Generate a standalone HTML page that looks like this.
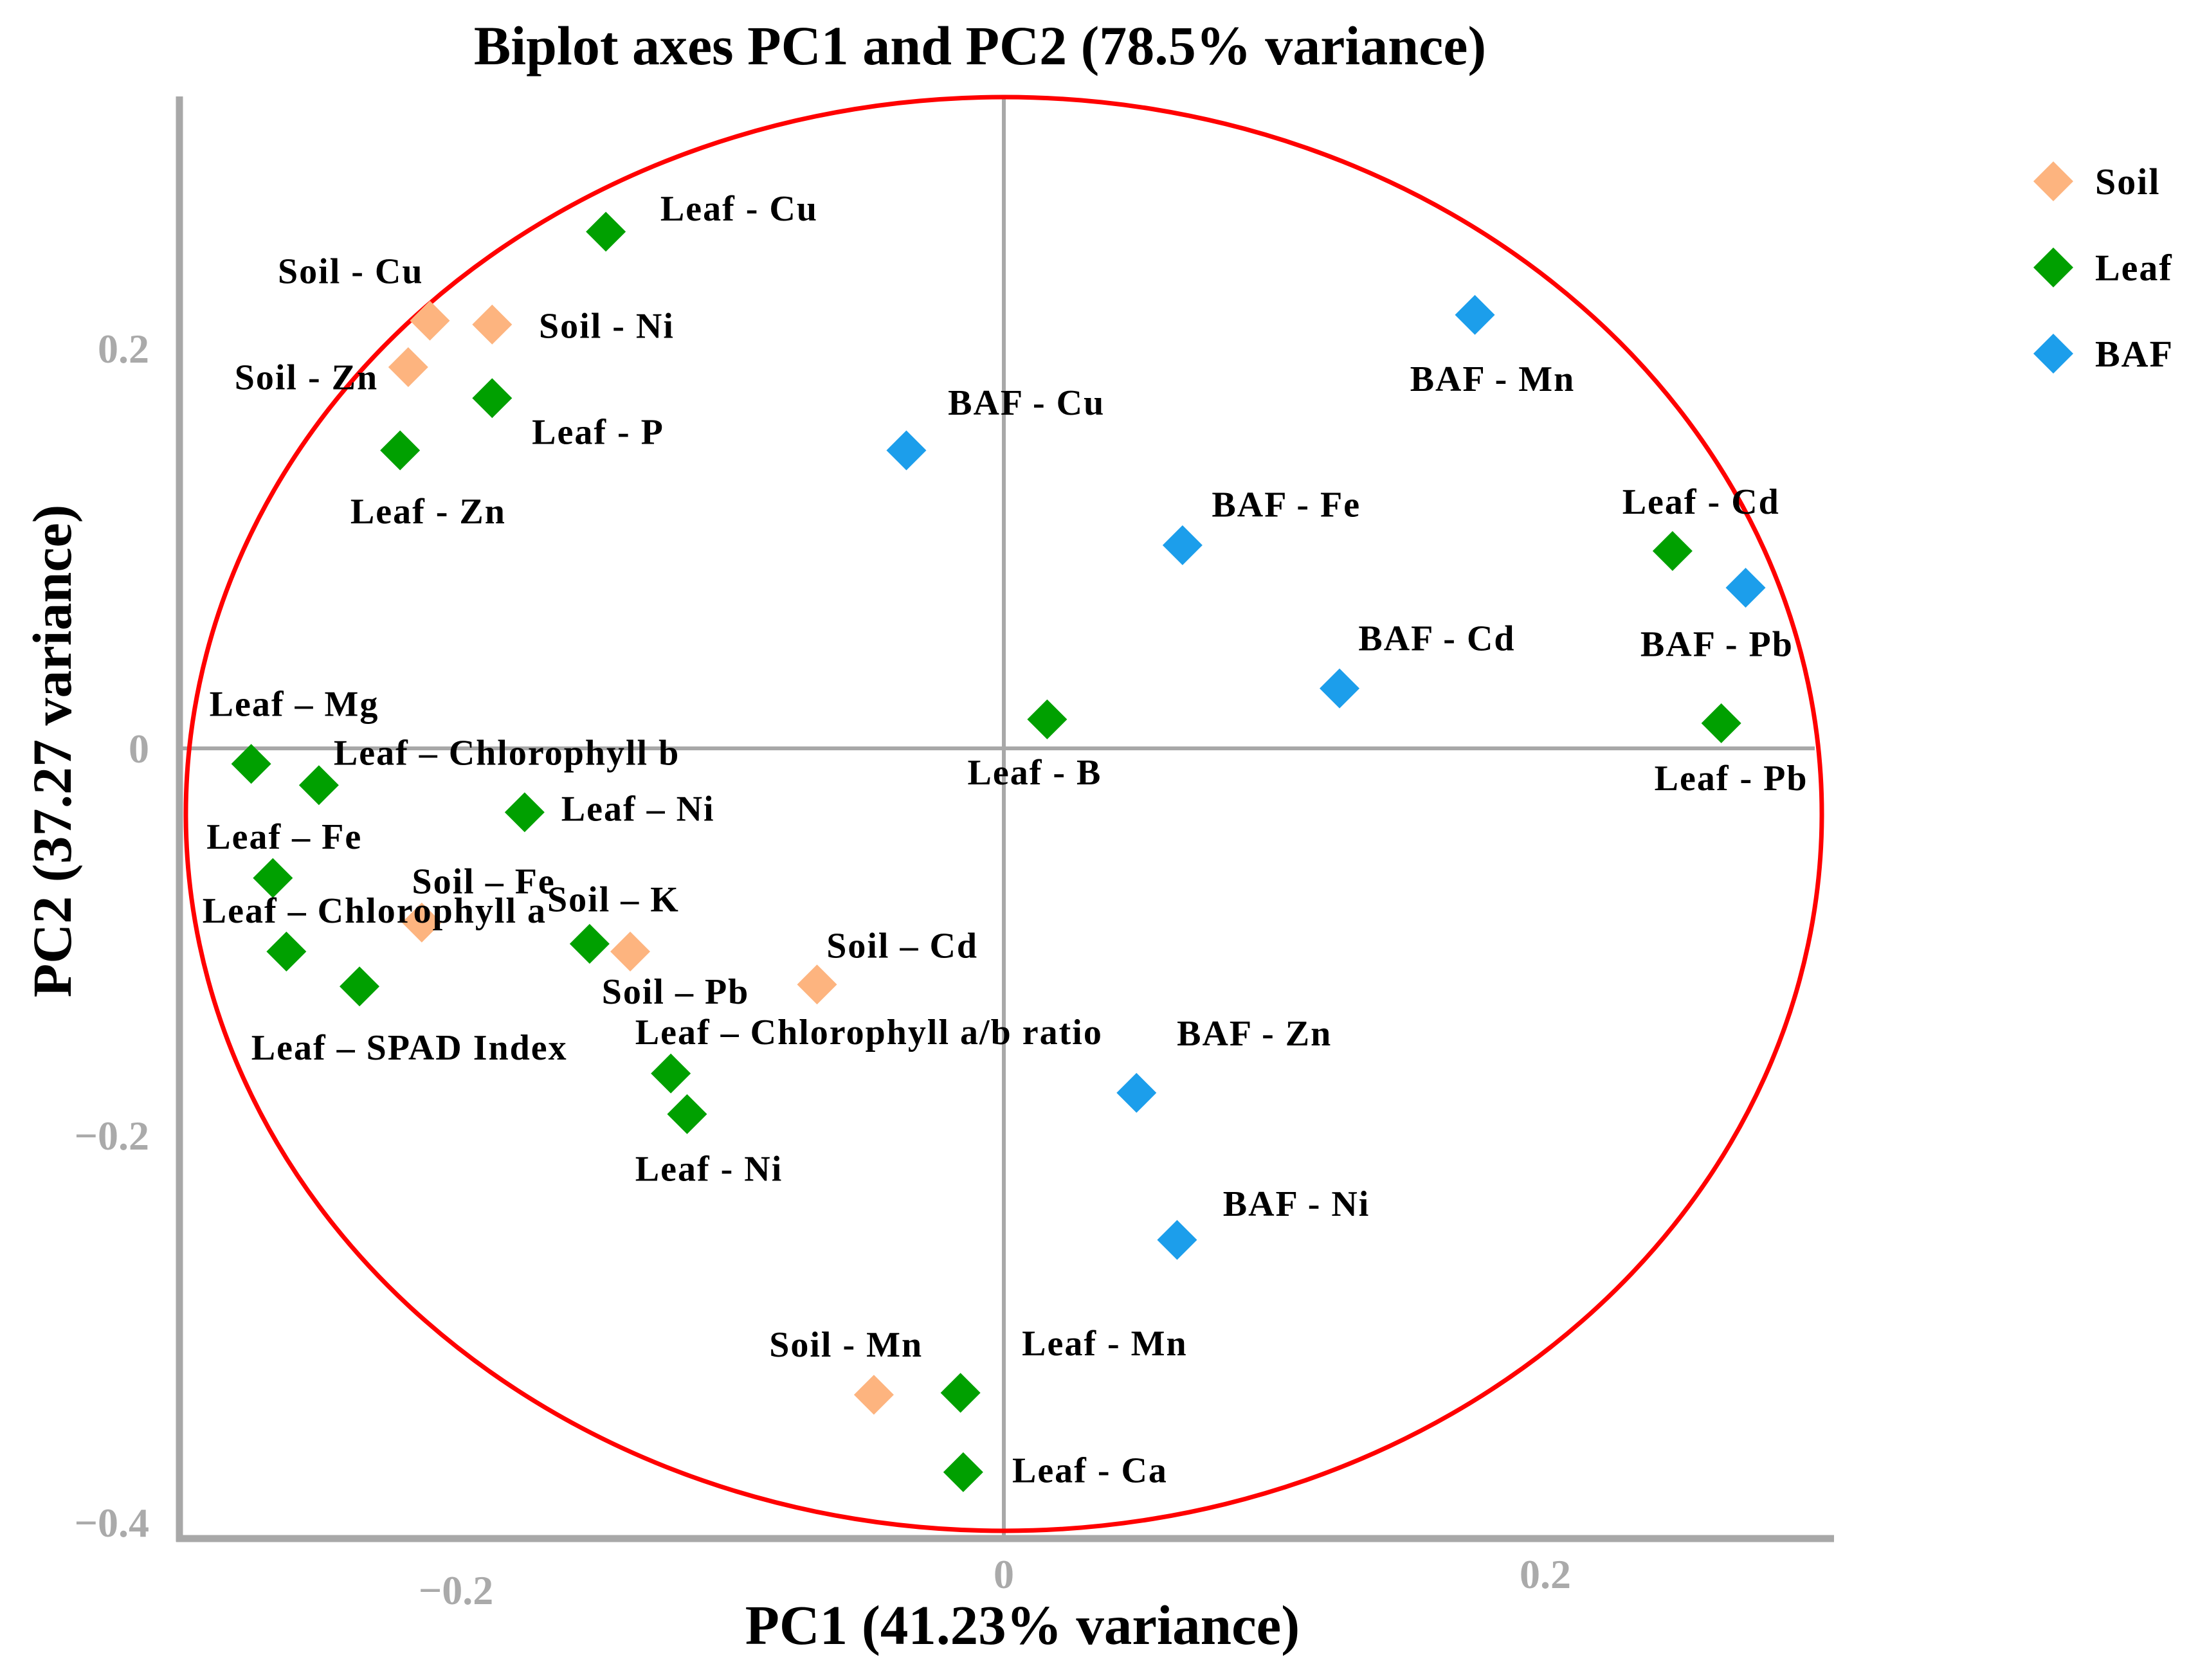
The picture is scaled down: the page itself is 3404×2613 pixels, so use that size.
<!DOCTYPE html>
<html><head><meta charset="utf-8"><style>
html,body{margin:0;padding:0;background:#fff}
svg{display:block}
text{font-family:"Liberation Serif",serif;font-weight:bold}
</style></head><body>
<svg id="chart" width="3404" height="2613" viewBox="0 0 3404 2613" xmlns="http://www.w3.org/2000/svg">
<text x="1524" y="100" font-size="86" text-anchor="middle" fill="#000">Biplot axes PC1 and PC2 (78.5% variance)</text>
<g id="axes"></g>
<g id="marks"></g>
<g id="labels"></g>
<g id="legend"></g>
<text x="1590" y="2557" font-size="87" text-anchor="middle" fill="#000">PC1 (41.23% variance)</text>
<text transform="translate(110,1168) rotate(-90)" font-size="86" text-anchor="middle" fill="#000">PC2 (37.27 variance)</text>
</svg>
<script>
const names = ["Soil - Cu","Soil - Ni","Soil - Zn","Soil - Fe","Soil - K","Soil - Cd","Soil - Mn",
"Leaf - Cu","Leaf - P","Leaf - Zn","Leaf - Mg","Leaf - Chlorophyll b","Leaf - Ni 1","Leaf - Fe","Leaf - Chlorophyll a","Leaf - SPAD Index","Leaf - Pb 2","Leaf - Chlorophyll a/b ratio","Leaf - Ni 2","Leaf - B","Leaf - Cd","Leaf - Pb","Leaf - Mn","Leaf - Ca",
"BAF - Mn","BAF - Cu","BAF - Fe","BAF - Pb","BAF - Cd","BAF - Zn","BAF - Ni"];
const groups = ["Soil","Soil","Soil","Soil","Soil","Soil","Soil",
"Leaf","Leaf","Leaf","Leaf","Leaf","Leaf","Leaf","Leaf","Leaf","Leaf","Leaf","Leaf","Leaf","Leaf","Leaf","Leaf","Leaf",
"BAF","BAF","BAF","BAF","BAF","BAF","BAF"];
const pc1 = [-0.212,-0.189,-0.220,-0.215,-0.138,-0.069,-0.048,
-0.147,-0.189,-0.223,-0.278,-0.253,-0.177,-0.270,-0.265,-0.238,-0.153,-0.123,-0.117,0.016,0.247,0.265,-0.016,-0.015,
0.174,-0.036,0.066,0.274,0.124,0.049,0.064];
const pc2 = [0.221,0.219,0.197,-0.090,-0.105,-0.122,-0.334,
0.267,0.181,0.154,-0.008,-0.019,-0.033,-0.067,-0.105,-0.123,-0.101,-0.168,-0.189,0.015,0.102,0.013,-0.333,-0.374,
0.224,0.154,0.105,0.083,0.031,-0.178,-0.254];
const xTicks = [-0.2,0,0.2];
const xTickLabels = ["\u22120.2","0","0.2"];
const yTicks = [0.2,0,-0.2,-0.4];
const yTickLabels = ["0.2","0","\u22120.2","\u22120.4"];
const legendItems = ["Soil","Leaf","BAF"];

const colors = {Soil:"#FDB47F",Leaf:"#00A000",BAF:"#1C9EEB"};
const SC = 2.171;
const xs = v => 1561 + v*4210;
const ys = v => 1164 - v*3010;
const NS = "http://www.w3.org/2000/svg";
function mk(tag, attrs, parent){const e=document.createElementNS(NS,tag);for(const k in attrs)e.setAttribute(k,attrs[k]);parent.appendChild(e);return e;}

const axes = document.getElementById('axes');
let e;
e = mk('line',{x1:282,y1:ys(0),x2:2822,y2:ys(0),stroke:"#a8a8a8","stroke-width":6},axes);


e = mk('line',{x1:xs(0),y1:153,x2:xs(0),y2:2393,stroke:"#a8a8a8","stroke-width":6},axes);


e = mk('line',{x1:279,y1:150,x2:279,y2:2398,stroke:"#a8a8a8","stroke-width":11},axes);


e = mk('line',{x1:274,y1:2393,x2:2852,y2:2393,stroke:"#a8a8a8","stroke-width":11},axes);


e = mk('ellipse',{cx:1561,cy:1266,rx:1272,ry:1115,fill:"none",stroke:"#ff0000","stroke-width":7},axes);



xTicks.forEach((t,i)=>{
  const el = mk('text',{x:xs(t)+(t<0?-10:0),y:(t<0?2495:2470),"font-size":64,"text-anchor":"middle",fill:"#aaaaaa"},axes);
  el.textContent = xTickLabels[i];
  
  
});
yTicks.forEach((t,i)=>{
  const el = mk('text',{x:232,y:ys(t)+22-(t>0?20:0),"font-size":64,"text-anchor":"end",fill:"#aaaaaa"},axes);
  el.textContent = yTickLabels[i];
  
  
});

function diamond(cx,cy,r){return `${cx},${cy-r} ${cx+r},${cy} ${cx},${cy+r} ${cx-r},${cy}`;}
const marks = document.getElementById('marks');
pc1.forEach((v,i)=>{
  const el = mk('polygon',{points:diamond(xs(v),ys(pc2[i]),31),fill:colors[groups[i]]},marks);
  
  
});

const labelText = ["Leaf - Cu","Soil - Cu","Soil - Ni","Soil - Zn","Leaf - P","Leaf - Zn","BAF - Cu","BAF - Mn","BAF - Fe","Leaf - Cd","BAF - Cd","BAF - Pb","Leaf \u2013 Mg","Leaf \u2013 Chlorophyll b","Leaf - B","Leaf - Pb","Leaf \u2013 Ni","Leaf \u2013 Fe","Soil \u2013 Fe","Soil \u2013 K","Leaf \u2013 Chlorophyll a","Soil \u2013 Cd","Soil \u2013 Pb","Leaf \u2013 Chlorophyll a/b ratio","BAF - Zn","Leaf \u2013 SPAD Index","Leaf - Ni","BAF - Ni","Soil - Mn","Leaf - Mn","Leaf - Ca"];
const labelPos = [[473,158],[199,203],[386,242],[168,279],[381,318],[251,375],[679,297],[1010,280],[868,370],[1162,368],[973,466],[1175,470],[150,513],[239,548],[693,562],[1185,566],[402,588],[148,608],[295,640],[392,653],[145,661],[592,686],[431,719],[455,748],[843,749],[180,759],[455,846],[876,871],[551,972],[732,971],[725,1062]];
const labels = document.getElementById('labels');
labelText.forEach((t,i)=>{
  const el = mk('text',{x:labelPos[i][0]*SC,y:labelPos[i][1]*SC,"font-size":56,"letter-spacing":"2",fill:"#000"},labels);
  el.textContent = t;
  
  
});

const legend = document.getElementById('legend');
legendItems.forEach((g,i)=>{
  const cy = 282 + i*134;
  const d = mk('polygon',{points:diamond(3193,cy,31),fill:colors[g]},legend);
  
  
  const t = mk('text',{x:3258,y:cy+20,"font-size":58,"letter-spacing":"2",fill:"#000"},legend);
  t.textContent = g;
  
  
});
</script>
</body></html>
